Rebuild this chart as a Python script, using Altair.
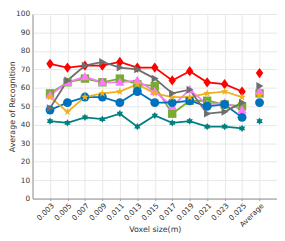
import altair as alt
import pandas as pd

categories = ["0.003", "0.005", "0.007", "0.009", "0.011", "0.013", "0.015",
              "0.017", "0.019", "0.021", "0.023", "0.025", "Average"]

series_names = ["S1", "S2", "S3", "S4", "S5", "S6", "S7"]
red_vals =     [73, 71, 72, 72, 74, 71, 71, 64, 69, 63, 62, 58, 68]
green_vals =   [57, 63, 65, 63, 65, 62, 61, 46, 53, 53, 51, 50, 57]
magenta_vals = [56, 63, 66, 63, 63, 64, 58, 50, 59, 51, 52, 48, 58]
blue_vals =    [48, 52, 55, 55, 52, 58, 52, 52, 53, 50, 51, 44, 52]
orange_vals =  [55, 47, 55, 57, 58, 62, 57, 55, 55, 57, 58, 55, 56]
grey_vals =    [49, 64, 72, 74, 71, 70, 65, 57, 59, 46, 47, 52, 61]
teal_vals =    [42, 41, 44, 43, 46, 39, 45, 41, 42, 39, 39, 38, 42]

all_vals = [red_vals, green_vals, magenta_vals, blue_vals, orange_vals, grey_vals, teal_vals]
colors = ["#FF0000", "#77AC30", "#FF77FF", "#0072BD", "#EDB120", "#6E6E6E", "#008080"]
shapes = [
    "M0,-1L0.72,0L0,1L-0.72,0Z",
    "M-0.85,-0.85L0.85,-0.85L0.85,0.85L-0.85,0.85Z",
    "M0,-1L1,0.75L-1,0.75Z",
    "circle",
    "M0,-1L0.2245,-0.309L0.951,-0.309L0.363,0.118L0.588,0.809L0,0.382L-0.588,0.809L-0.363,0.118L-0.951,-0.309L-0.2245,-0.309Z",
    "M-0.8,-1L1,0L-0.8,1Z",
    "M0,-1L0.29,-0.5L0.87,-0.5L0.58,0L0.87,0.5L0.29,0.5L0,1L-0.29,0.5L-0.87,0.5L-0.58,0L-0.87,-0.5L-0.29,-0.5Z",
]
sizes = [110, 55, 85, 65, 110, 110, 85]

rows = []
for i, (name, vals) in enumerate(zip(series_names, all_vals)):
    for c, v in zip(categories, vals):
        rows.append({"series": name, "cat": c, "value": v, "order": i,
                     "isavg": c == "Average"})
df = pd.DataFrame(rows)

font = "DejaVu Sans"
x_enc = alt.X("cat:N", sort=categories,
              scale=alt.Scale(type="point", padding=1),
              axis=alt.Axis(title="Voxel size(m)", labelAngle=-45, labelAlign="right",
                            labelBaseline="top", labelFontSize=7.5, titleFontSize=8,
                            labelFont=font, titleFont=font, labelColor="#333",
                            titleColor="#333", titleFontWeight="normal",
                            grid=True, gridColor="#e8e8e8", domainColor="#999",
                            tickColor="#999", tickSize=2, labelPadding=1,
                            titleY=32, titleBaseline="middle"))
y_enc = alt.Y("value:Q", scale=alt.Scale(domain=[0, 100], nice=False),
              axis=alt.Axis(title="Average of Recognition", values=list(range(0, 101, 10)),
                            labelFontSize=7.5, titleFontSize=8, labelFont=font,
                            titleFont=font, labelColor="#333", titleColor="#333",
                            titleFontWeight="normal", grid=True, gridColor="#e8e8e8",
                            domainColor="#999", ticks=False,
                            labelPadding=3, titleX=-20, titleBaseline="middle"))
color_enc = alt.Color("series:N", scale=alt.Scale(domain=series_names, range=colors), legend=None)

base = alt.Chart(df)
lines = base.transform_filter("!datum.isavg").mark_line(strokeWidth=1.8).encode(
    x=x_enc, y=y_enc, color=color_enc, detail="series:N", order="cat:N")

pts = base.mark_point(filled=True, opacity=1, strokeWidth=0).encode(
    x=x_enc, y=y_enc, color=color_enc,
    shape=alt.Shape("series:N", scale=alt.Scale(domain=series_names, range=shapes), legend=None),
    size=alt.Size("series:N", scale=alt.Scale(domain=series_names, range=sizes), legend=None),
    order="order:Q")

chart = alt.layer(lines, pts).properties(
    width=249, height=188,
    autosize=alt.AutoSizeParams(type="none"),
    padding={"left": 25, "top": 4, "right": 0, "bottom": 36},
).configure_view(stroke="#999", strokeWidth=1).configure(background="white")

chart.save("out.html", embed_options={"renderer": "svg", "actions": False})
